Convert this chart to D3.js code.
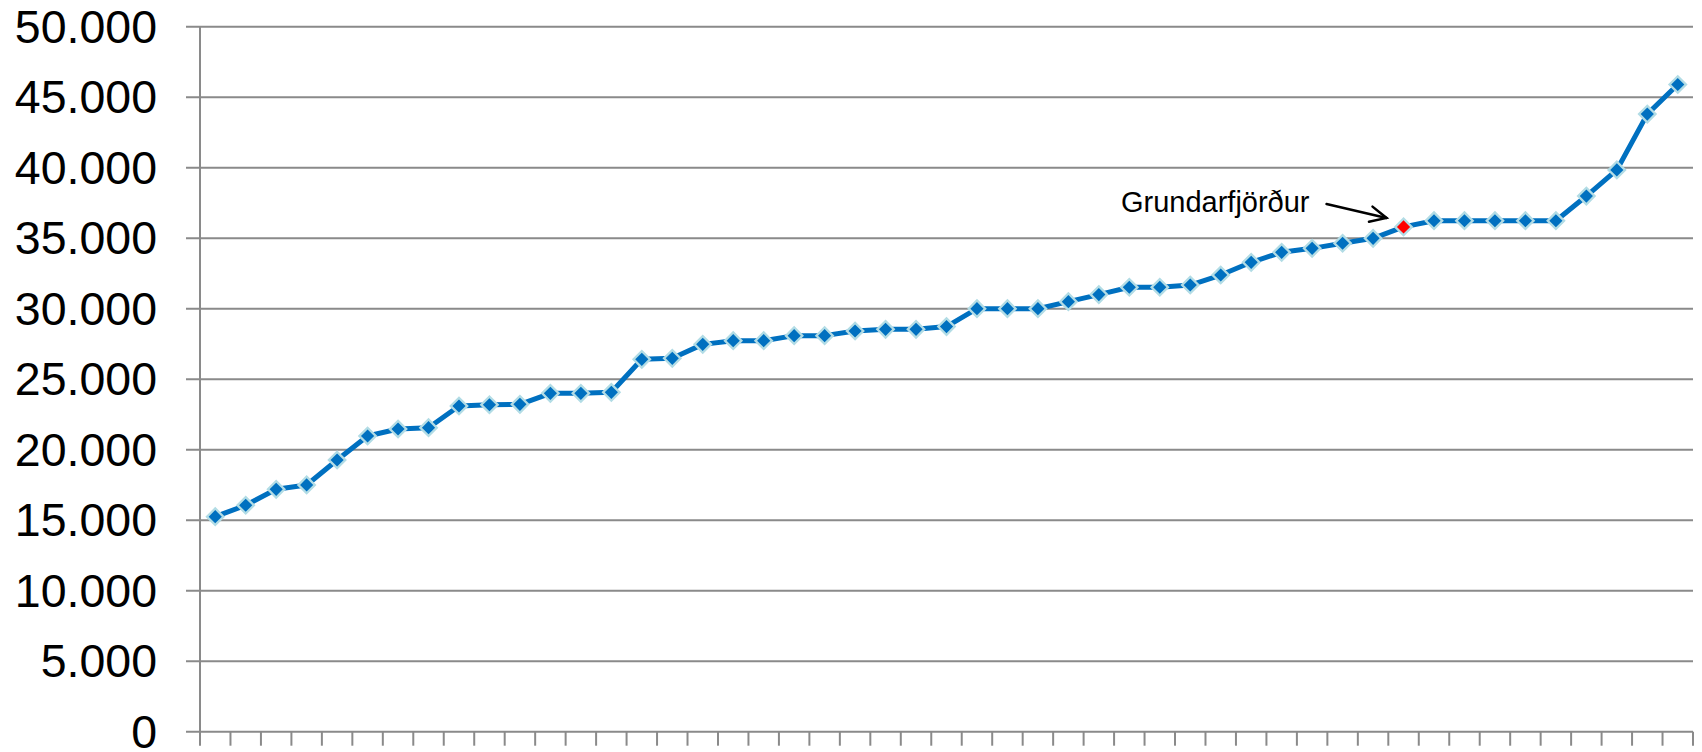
<!DOCTYPE html>
<html>
<head>
<meta charset="utf-8">
<script src="https://cdn.jsdelivr.net/npm/d3@7"></script>
<style>
  html, body { margin: 0; padding: 0; background: #ffffff; }
  svg { display: block; }
</style>
</head>
<body>
<svg id="chart" width="1702" height="752"></svg>
<script>
// ---- Data ----
const categories = d3.range(1, 50).map(i => "Sveitarfélag " + i);
const highlightIndex = 39; // 0-based position of the highlighted place
categories[highlightIndex] = "Grundarfjörður";
const values = [
  15250, 16060, 17190, 17500, 19270, 20970, 21470, 21560, 23100, 23190,
  23220, 24000, 24000, 24070, 26410, 26480, 27470, 27730, 27730, 28090,
  28090, 28420, 28540, 28540, 28730, 30000, 30000, 30000, 30500, 31000,
  31520, 31520, 31680, 32390, 33290, 34000, 34280, 34640, 34990, 35800,
  36240, 36240, 36240, 36240, 36240, 37990, 39840, 43800, 45900
];
const yTicks = [0, 5000, 10000, 15000, 20000, 25000, 30000, 35000, 40000, 45000, 50000];
const annotationText = "Grundarfjörður";

// ---- Layout ----
const plot = { left: 200, right: 1693, top: 26.7, bottom: 731.7 };
const svg = d3.select("#chart");

const x = d3.scaleBand().domain(categories).range([plot.left, plot.right]).paddingInner(0).paddingOuter(0);
const y = d3.scaleLinear().domain([0, 50000]).range([plot.bottom, plot.top]);

const locale = d3.formatLocale({ decimal: ",", thousands: ".", grouping: [3], currency: ["", " kr."] });
const fmt = locale.format(",");

const gridColor = "#8a8a8a";

// Gridlines (extend left beyond axis as tick marks)
svg.append("g")
  .selectAll("line")
  .data(yTicks)
  .join("line")
  .attr("x1", plot.left - 14)
  .attr("x2", plot.right)
  .attr("y1", d => y(d))
  .attr("y2", d => y(d))
  .attr("stroke", gridColor)
  .attr("stroke-width", 2);

// Y axis line
svg.append("line")
  .attr("x1", plot.left).attr("x2", plot.left)
  .attr("y1", y(50000)).attr("y2", y(0))
  .attr("stroke", gridColor).attr("stroke-width", 2);

// Y tick labels
svg.append("g")
  .selectAll("text")
  .data(yTicks)
  .join("text")
  .attr("x", plot.left - 43)
  .attr("y", d => y(d))
  .attr("dy", "0.35em")
  .attr("text-anchor", "end")
  .attr("font-family", "Liberation Sans, Arial, sans-serif")
  .attr("font-size", 46.5)
  .attr("fill", "#000")
  .text(d => fmt(d));

// X axis ticks at category boundaries
const boundaries = categories.map(c => x(c)).concat([x(categories[categories.length - 1]) + x.bandwidth()]);
svg.append("g")
  .selectAll("line")
  .data(boundaries)
  .join("line")
  .attr("x1", d => d).attr("x2", d => d)
  .attr("y1", y(0)).attr("y2", y(0) + 14)
  .attr("stroke", gridColor).attr("stroke-width", 2);

// Line
const pts = values.map((v, i) => ({ c: categories[i], v, i }));
const cx = d => x(d.c) + x.bandwidth() / 2;
svg.append("path")
  .datum(pts)
  .attr("fill", "none")
  .attr("stroke", "#0070C0")
  .attr("stroke-width", 5)
  .attr("stroke-linejoin", "round")
  .attr("d", d3.line().x(cx).y(d => y(d.v)));

// Markers (diamonds = rotated squares)
const sym = d3.symbol().type(d3.symbolSquare).size(135);
svg.append("g")
  .selectAll("path")
  .data(pts)
  .join("path")
  .attr("d", sym)
  .attr("transform", d => `translate(${cx(d)},${y(d.v)}) rotate(45)`)
  .attr("fill", d => d.i === highlightIndex ? "#FF0000" : "#0070C0")
  .attr("stroke", "#B2DCE5")
  .attr("stroke-width", 2.3);

// Annotation
const hp = pts[highlightIndex];
const hx = cx(hp), hy = y(hp.v);
const tip = [hx - 17, hy - 9];
const tail = [hx - 77, hy - 23];
const ang = Math.atan2(tip[1] - tail[1], tip[0] - tail[0]);
const headLen = 18, headAng = Math.PI / 7;
const ag = svg.append("g").attr("stroke", "#000").attr("stroke-width", 2.5).attr("fill", "none").attr("stroke-linecap", "round");
ag.append("line").attr("x1", tail[0]).attr("y1", tail[1]).attr("x2", tip[0]).attr("y2", tip[1]);
ag.append("path").attr("d", d3.line()([
  [tip[0] - headLen * Math.cos(ang - headAng), tip[1] - headLen * Math.sin(ang - headAng)],
  tip,
  [tip[0] - headLen * Math.cos(ang + headAng), tip[1] - headLen * Math.sin(ang + headAng)]
]));

svg.append("text")
  .attr("x", tail[0] - 17)
  .attr("y", hy - 15)
  .attr("text-anchor", "end")
  .attr("font-family", "Liberation Sans, Arial, sans-serif")
  .attr("font-size", 29)
  .attr("fill", "#000")
  .text(annotationText);
</script>
</body>
</html>
